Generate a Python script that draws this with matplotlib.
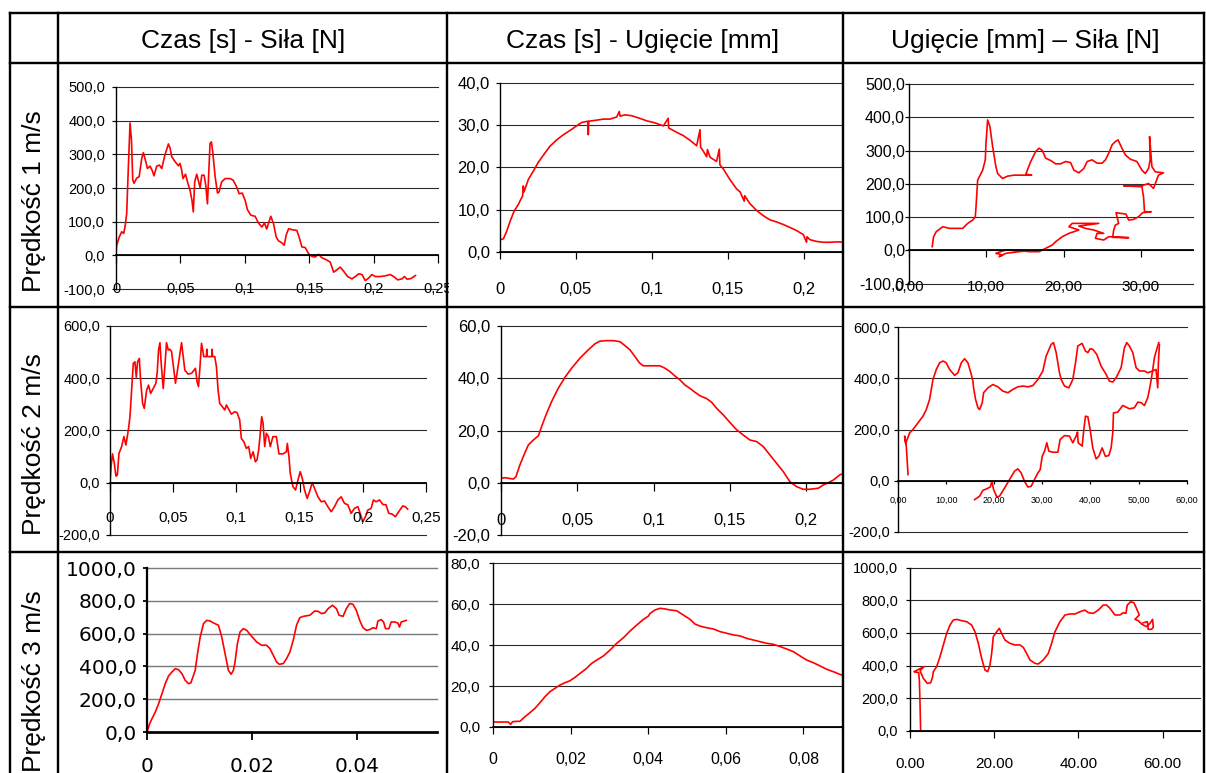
import numpy as np
import matplotlib
matplotlib.use("Agg")
import matplotlib.pyplot as plt
from matplotlib.lines import Line2D
from matplotlib.patches import Rectangle

# ---------------- data ----------------
col_titles = ["Czas [s] - Siła [N]", "Czas [s] - Ugięcie [mm]", "Ugięcie [mm] – Siła [N]"]
row_titles = ["Prędkość 1 m/s", "Prędkość 2 m/s", "Prędkość 3 m/s"]

# 1 m/s : time [s] - force [N]
v1_czas_sila = [(0, 5), (0.0005, 30), (0.0026, 55), (0.0044, 70), (0.006, 65), (0.007, 85), (0.0083, 124),
    (0.0096, 263), (0.0109, 393), (0.012, 343), (0.013, 224), (0.014, 214), (0.016, 229), (0.018, 234),
    (0.020, 288), (0.0212, 305), (0.0225, 288), (0.0244, 258), (0.0264, 265), (0.028, 253), (0.0295, 236),
    (0.0316, 265), (0.0337, 268), (0.0355, 258), (0.038, 298), (0.0407, 331), (0.042, 318), (0.0433, 293),
    (0.0459, 278), (0.0485, 266), (0.0497, 273), (0.051, 253), (0.052, 228), (0.054, 241), (0.0555, 218),
    (0.0575, 193), (0.059, 163), (0.060, 129), (0.0611, 218), (0.0627, 241), (0.0642, 218), (0.0653, 201),
    (0.0666, 238), (0.0684, 238), (0.0697, 208), (0.071, 153), (0.072, 243), (0.073, 332), (0.0741, 337),
    (0.0751, 307), (0.077, 233), (0.0788, 185), (0.080, 188), (0.082, 218), (0.0847, 228), (0.0886, 228),
    (0.091, 223), (0.0937, 203), (0.0956, 183), (0.098, 185), (0.1003, 163), (0.102, 136), (0.1047, 119),
    (0.108, 116), (0.1106, 96), (0.1132, 84), (0.1153, 96), (0.117, 78), (0.1187, 99), (0.1202, 116),
    (0.1223, 94), (0.1244, 54), (0.1262, 43), (0.1288, 37), (0.1306, 30), (0.1321, 60), (0.134, 79),
    (0.1368, 76), (0.1404, 74), (0.1425, 50), (0.1443, 25), (0.1469, 23), (0.1495, 5), (0.152, -3),
    (0.1546, -5), (0.1572, 3), (0.1598, -7), (0.1632, -13), (0.1663, -20), (0.169, -50), (0.1715, -43),
    (0.1741, -35), (0.1767, -47), (0.1798, -63), (0.1832, -70), (0.1858, -63), (0.1884, -55), (0.191, -57),
    (0.1935, -75), (0.196, -68), (0.1987, -57), (0.2013, -63), (0.2052, -63), (0.209, -61), (0.213, -57),
    (0.2156, -63), (0.2187, -73), (0.222, -70), (0.224, -63), (0.226, -71), (0.229, -69), (0.2325, -60)]

# 1 m/s : time [s] - deflection [mm]
v1_czas_ugiecie = [(0, 2.9), (0.0022, 3.1), (0.0044, 4.9), (0.0066, 7.2), (0.0092, 9.6), (0.012, 11.2),
    (0.0149, 13.3), (0.0153, 15.6), (0.0158, 14.2), (0.0186, 17.1), (0.0219, 19.1), (0.0252, 21.2),
    (0.029, 23.1), (0.0329, 25.0), (0.0373, 26.5), (0.0417, 27.7), (0.046, 28.7), (0.0504, 29.8),
    (0.0537, 30.6), (0.0578, 30.9), (0.0581, 27.7), (0.0584, 30.9), (0.0625, 31.1), (0.068, 31.4),
    (0.0724, 31.4), (0.0768, 31.9), (0.0785, 33.2), (0.079, 32.1), (0.0822, 32.4), (0.0866, 32.2),
    (0.091, 31.7), (0.0965, 31.0), (0.102, 30.5), (0.1075, 29.8), (0.1107, 31.6), (0.111, 29.3),
    (0.1162, 28.3), (0.1206, 27.5), (0.125, 26.4), (0.1294, 25.1), (0.1316, 28.9), (0.132, 24.8),
    (0.1338, 23.8), (0.136, 22.5), (0.1365, 24.2), (0.1382, 22.4), (0.1425, 21.4), (0.1443, 24.3),
    (0.1447, 20.6), (0.147, 19.6), (0.1513, 17.1), (0.1557, 14.9), (0.158, 14.2), (0.1607, 12.0),
    (0.161, 13.3), (0.1645, 11.4), (0.1689, 9.8), (0.1732, 8.6), (0.1776, 7.6), (0.182, 7.1),
    (0.1864, 6.5), (0.1908, 5.8), (0.195, 5.1), (0.1996, 4.1), (0.2017, 2.3), (0.202, 3.6), (0.204, 2.9),
    (0.2083, 2.5), (0.2127, 2.3), (0.217, 2.3), (0.222, 2.4), (0.2257, 2.3)]

# 1 m/s : deflection [mm] - force [N]
v1_ugiecie_sila = [(3.0, 11), (3.18, 41), (3.52, 56), (4.38, 71), (5.24, 66), (6.09, 66), (6.95, 66),
    (7.6, 81), (8.24, 91), (8.58, 101), (8.67, 131), (8.88, 211), (9.53, 241), (9.87, 272), (9.96, 322),
    (10.17, 392), (10.47, 372), (10.82, 312), (11.24, 252), (11.46, 231), (12.1, 216), (12.75, 223),
    (13.6, 226), (15.88, 226), (15.11, 229), (15.75, 267), (16.39, 297), (16.82, 307), (17.25, 300),
    (17.68, 277), (18.33, 270), (18.97, 260), (19.61, 260), (20.26, 267), (20.9, 264), (21.33, 241),
    (21.97, 233), (22.62, 246), (23.05, 267), (23.69, 272), (24.33, 262), (24.98, 262), (25.41, 272),
    (25.84, 292), (26.27, 317), (26.7, 327), (27.04, 332), (27.55, 307), (27.98, 287), (28.63, 274),
    (29.48, 267), (30.13, 241), (30.56, 231), (30.99, 246), (31.2, 272), (31.12, 342), (31.29, 292),
    (31.42, 252), (31.85, 236), (32.92, 233), (32.27, 226), (31.63, 186), (30.99, 201), (30.13, 194),
    (27.77, 194), (30.13, 191), (30.34, 161), (30.47, 116), (31.33, 116), (30.21, 113), (29.7, 101),
    (29.06, 93), (28.41, 91), (28.07, 109), (26.78, 113), (27.12, 81), (26.7, 76), (26.48, 61),
    (26.35, 39), (28.41, 38), (25.84, 41), (25.19, 31), (24.12, 36), (24.33, 51), (25.19, 51),
    (23.91, 61), (22.83, 66), (21.97, 73), (24.55, 81), (21.12, 81), (20.69, 71), (21.97, 61),
    (20.69, 51), (19.83, 41), (18.97, 26), (18.54, 16), (17.68, 6), (16.82, -4), (15.54, -4),
    (14.46, -1), (12.53, 1), (11.24, -9), (12.1, -14), (11.67, -19), (12.53, -9), (14.25, -4), (15.54, -1)]

# 2 m/s : time [s] - force [N]
v2_czas_sila = [(0, 0), (0.0008, 61), (0.002, 110), (0.0034, 74), (0.0047, 25), (0.0058, 29), (0.0071, 112),
    (0.0092, 138), (0.011, 176), (0.0126, 144), (0.0145, 201), (0.0158, 252), (0.0171, 354), (0.0184, 456),
    (0.0197, 462), (0.0208, 403), (0.0218, 462), (0.0232, 475), (0.0242, 392), (0.0258, 303), (0.0271, 284),
    (0.029, 354), (0.0305, 373), (0.0321, 341), (0.0342, 360), (0.0363, 380), (0.0374, 424), (0.0384, 507),
    (0.0395, 535), (0.0405, 456), (0.0421, 360), (0.0434, 443), (0.0447, 535), (0.0461, 507), (0.0474, 510),
    (0.0487, 501), (0.05, 450), (0.0518, 380), (0.0534, 430), (0.0553, 494), (0.0566, 535), (0.0579, 482),
    (0.0592, 430), (0.0618, 415), (0.0645, 418), (0.0676, 437), (0.0689, 386), (0.07, 367), (0.0711, 437),
    (0.0724, 533), (0.0742, 482), (0.0763, 482), (0.0766, 510), (0.0769, 482), (0.0789, 482), (0.0805, 482),
    (0.0808, 510), (0.0811, 482), (0.0829, 482), (0.0842, 443), (0.0855, 354), (0.0868, 303), (0.0889, 290),
    (0.0908, 278), (0.0921, 297), (0.0942, 278), (0.096, 262), (0.0987, 271), (0.1005, 268), (0.1026, 240),
    (0.1039, 169), (0.1058, 157), (0.1079, 131), (0.1097, 138), (0.1113, 93), (0.1132, 118), (0.115, 80),
    (0.1163, 87), (0.1176, 125), (0.1184, 163), (0.12, 252), (0.1211, 227), (0.1224, 138), (0.1237, 189),
    (0.1253, 176), (0.1268, 138), (0.1289, 176), (0.1316, 176), (0.1337, 110), (0.1368, 110), (0.1395, 118),
    (0.1403, 150), (0.1416, 99), (0.1426, 36), (0.1447, -15), (0.1468, -28), (0.1487, 10), (0.1505, 42),
    (0.1521, 17), (0.1539, -28), (0.156, -60), (0.1579, -34), (0.16, 0), (0.1618, -22), (0.1645, -54),
    (0.1671, -73), (0.1697, -70), (0.1724, -92), (0.175, -111), (0.1776, -92), (0.1803, -66), (0.1829, -54),
    (0.1855, -79), (0.1882, -85), (0.1908, -117), (0.1934, -98), (0.1961, -92), (0.1979, -117), (0.2, -149),
    (0.2021, -130), (0.2039, -105), (0.2066, -98), (0.2084, -66), (0.2105, -73), (0.2132, -66), (0.2158, -83),
    (0.2184, -85), (0.2205, -117), (0.2232, -120), (0.2258, -130), (0.2284, -111), (0.2316, -89),
    (0.2337, -92), (0.2355, -101)]

# 2 m/s : time [s] - deflection [mm]
v2_czas_ugiecie = [(0, 1.8), (0.0026, 2.0), (0.0048, 1.8), (0.0081, 1.5), (0.0098, 2.4), (0.0124, 6.9),
    (0.0157, 11.6), (0.0179, 14.5), (0.0212, 16.4), (0.0245, 18.0), (0.0266, 21.5), (0.0295, 26.0),
    (0.0332, 31.1), (0.0376, 36.2), (0.0419, 40.3), (0.0463, 43.8), (0.0517, 47.6), (0.0572, 50.8),
    (0.0616, 53.1), (0.0648, 54.1), (0.0692, 54.3), (0.0736, 54.3), (0.078, 53.9), (0.0812, 52.4),
    (0.0845, 50.8), (0.0878, 48.2), (0.0906, 45.9), (0.0932, 44.7), (0.0976, 44.7), (0.1041, 44.7),
    (0.1074, 43.8), (0.1107, 42.5), (0.114, 40.8), (0.1173, 39.3), (0.1205, 37.4), (0.1238, 36.1),
    (0.1271, 34.6), (0.1303, 33.3), (0.1347, 32.2), (0.138, 30.8), (0.1413, 28.5), (0.1456, 26.0),
    (0.15, 23.1), (0.1544, 20.3), (0.1587, 18.3), (0.1631, 16.4), (0.1675, 15.8), (0.1718, 13.9),
    (0.1762, 10.7), (0.1806, 7.5), (0.185, 4.3), (0.1893, 0.5), (0.1937, -1.4), (0.198, -2.4),
    (0.2024, -2.4), (0.2079, -2.0), (0.2111, -0.8), (0.2144, 0.1), (0.2177, 1.1), (0.222, 3.1), (0.2241, 3.5)]

# 2 m/s : deflection [mm] - force [N] (two branches)
v2_ugiecie_sila_a = [(2.08, 23.5), (1.73, 134), (1.38, 174), (1.59, 145), (2.42, 187), (3.11, 200),
    (4.15, 226), (5.19, 252), (5.88, 278), (6.57, 318), (7.27, 396), (7.96, 435), (8.65, 461), (9.34, 468),
    (10.03, 461), (10.73, 435), (11.76, 412), (12.46, 422), (13.15, 461), (13.84, 477), (14.53, 461),
    (15.22, 416), (15.57, 389), (15.71, 363), (16.12, 318), (16.61, 285), (16.96, 278), (17.51, 305),
    (17.79, 344), (18.69, 363), (19.72, 376), (20.76, 367), (21.8, 350), (22.84, 344), (23.88, 357),
    (24.91, 367), (25.95, 370), (26.99, 367), (28.03, 372), (29.07, 396), (30.1, 429), (30.8, 488),
    (31.83, 533), (32.32, 540), (32.87, 501), (33.56, 422), (33.91, 396), (34.6, 370), (35.5, 363),
    (36.33, 396), (36.89, 461), (37.37, 527), (38.27, 537), (38.96, 507), (39.45, 501), (39.93, 516),
    (40.48, 514), (41.31, 494), (42.21, 448), (43.25, 416), (43.94, 389), (44.64, 386), (45.33, 403),
    (46.37, 442), (47.06, 520), (47.54, 540), (48.1, 527), (48.79, 501), (49.48, 442), (50.17, 429),
    (51.21, 429), (51.9, 422), (52.94, 429), (53.63, 435), (53.98, 363), (54.12, 461), (54.33, 533)]
v2_ugiecie_sila_b = [(15.92, -74.5), (16.96, -61), (17.65, -38), (18.34, -33), (19.17, -25), (19.52, -3),
    (19.86, -35), (20.55, -64), (21.1, -61), (22.15, -29), (23.18, 4), (24.22, 37), (24.91, 46), (25.6, 30),
    (26.3, -3), (26.99, -25), (27.68, -22), (28.37, 4), (29.07, 30), (29.55, 43), (29.97, 95), (30.45, 115),
    (30.93, 148), (31.35, 115), (32.18, 111), (33.22, 111), (33.7, 161), (34.6, 176), (35.64, 174),
    (36.33, 148), (37.02, 174), (37.3, 190), (37.44, 148), (38.27, 135), (38.62, 200), (38.96, 252),
    (39.45, 250), (39.93, 200), (40.48, 128), (41.18, 85), (41.73, 95), (42.42, 128), (43.11, 95),
    (43.81, 98), (44.29, 128), (44.64, 187), (44.78, 265), (45.67, 268), (46.71, 294), (48.1, 281),
    (49.13, 285), (49.83, 307), (50.52, 305), (51.21, 294), (51.9, 324), (52.39, 370), (52.8, 416),
    (53.29, 481), (53.77, 514), (54.19, 540)]

# 3 m/s : time [s] - force [N]
v3_czas_sila = [(0, 0), (0.00051, 51), (0.00095, 81), (0.00158, 122), (0.00222, 173), (0.00285, 234),
    (0.00348, 295), (0.00411, 342), (0.00475, 366), (0.00538, 386), (0.00601, 380), (0.00665, 356),
    (0.00728, 315), (0.00791, 295), (0.00835, 299), (0.00886, 346), (0.00918, 376), (0.00962, 478),
    (0.01013, 579), (0.01076, 661), (0.01139, 681), (0.01203, 677), (0.01266, 665), (0.01361, 651),
    (0.01424, 579), (0.01487, 478), (0.01551, 376), (0.01601, 352), (0.01646, 376), (0.01677, 427),
    (0.01722, 539), (0.01772, 610), (0.01835, 630), (0.01899, 620), (0.01994, 583), (0.02089, 549),
    (0.02184, 529), (0.02278, 529), (0.02342, 508), (0.02405, 468), (0.02468, 427), (0.02519, 413),
    (0.02595, 417), (0.02658, 447), (0.02722, 488), (0.02785, 559), (0.02848, 651), (0.02911, 697),
    (0.02975, 705), (0.03101, 712), (0.03196, 738), (0.03259, 736), (0.03323, 722), (0.03386, 726),
    (0.03449, 752), (0.03532, 773), (0.03608, 752), (0.03658, 712), (0.03734, 705), (0.03797, 752),
    (0.03861, 783), (0.03924, 779), (0.03987, 742), (0.04051, 681), (0.04114, 636), (0.04177, 620),
    (0.04241, 624), (0.04304, 636), (0.04367, 630), (0.04399, 677), (0.04462, 685), (0.04506, 671),
    (0.04544, 630), (0.04608, 630), (0.04652, 671), (0.04715, 671), (0.04778, 665), (0.0481, 640),
    (0.04842, 671), (0.04905, 677), (0.04937, 681)]

# 3 m/s : time [s] - deflection [mm]
v3_czas_ugiecie = [(0, 2.44), (0.00172, 2.44), (0.00387, 2.44), (0.00447, 1.3), (0.00499, 2.6),
    (0.00602, 2.77), (0.00688, 2.77), (0.00817, 5.05), (0.00946, 7.0), (0.01075, 9.12), (0.01204, 11.9),
    (0.01333, 14.8), (0.01462, 17.26), (0.01591, 18.9), (0.0172, 20.5), (0.0185, 21.66), (0.01978, 22.6),
    (0.02108, 24.3), (0.02237, 26.2), (0.02409, 28.7), (0.02538, 31.1), (0.02667, 32.7), (0.02839, 34.7),
    (0.03011, 37.6), (0.03183, 40.9), (0.03355, 43.6), (0.03527, 46.9), (0.03699, 49.8), (0.03871, 52.6),
    (0.04, 54.2), (0.04043, 55.5), (0.04172, 57.2), (0.04301, 58.0), (0.0443, 57.7), (0.04559, 57.2),
    (0.04731, 56.8), (0.04903, 54.7), (0.05075, 52.6), (0.05204, 50.3), (0.05333, 49.3), (0.05505, 48.5),
    (0.05677, 47.9), (0.05849, 46.6), (0.06022, 45.8), (0.06194, 45.0), (0.06366, 44.5), (0.06538, 43.3),
    (0.0671, 42.5), (0.06882, 41.7), (0.07054, 40.9), (0.07226, 40.4), (0.07398, 39.3), (0.0757, 38.1),
    (0.07742, 36.8), (0.07914, 34.7), (0.08086, 32.7), (0.08258, 31.4), (0.0843, 29.8), (0.08602, 28.2),
    (0.08774, 27.0), (0.08946, 25.7), (0.0902, 25.2)]

# 3 m/s : deflection [mm] - force [N]
v3_ugiecie_sila = [(2.53, 0), (2.38, 168), (2.22, 311), (2.06, 356), (0.95, 362), (1.43, 368), (3.33, 393),
    (2.38, 368), (3.17, 321), (4.12, 290), (4.91, 294), (5.38, 331), (5.54, 362), (6.33, 393), (7.13, 454),
    (7.92, 526), (8.71, 597), (9.5, 648), (10.29, 679), (11.08, 683), (12.27, 675), (13.46, 669),
    (14.65, 648), (15.44, 607), (16.23, 536), (17.02, 444), (17.81, 372), (18.45, 362), (19.0, 403),
    (19.4, 474), (19.79, 577), (20.59, 607), (21.22, 628), (21.77, 597), (22.57, 556), (23.75, 536),
    (24.94, 526), (26.13, 526), (26.92, 511), (27.71, 474), (28.5, 434), (29.69, 413), (30.48, 409),
    (31.67, 434), (32.86, 474), (33.65, 536), (34.44, 607), (35.63, 669), (36.82, 710), (38.0, 716),
    (39.19, 716), (40.38, 730), (41.57, 740), (42.36, 724), (43.55, 720), (44.74, 740), (45.92, 771),
    (46.71, 771), (47.5, 751), (48.69, 710), (49.88, 710), (50.67, 724), (51.3, 720), (51.62, 771),
    (52.41, 791), (53.2, 785), (53.8, 751), (54.47, 710), (53.44, 683), (54.23, 675), (55.03, 654),
    (56.2, 638), (57.0, 658), (57.64, 683), (57.8, 634), (57.4, 622), (56.6, 622), (56.4, 669), (55.4, 662)]

# tick values / labels
yt_sila1 = [-100, 0, 100, 200, 300, 400, 500]
yt_ug1 = [0, 10, 20, 30, 40]
yt_sila2 = [-200, 0, 200, 400, 600]
yt_ug2 = [-20, 0, 20, 40, 60]
yt_sila3 = [0, 200, 400, 600, 800, 1000]
yt_ug3 = [0, 20, 40, 60, 80]
xt_czas = [0, 0.05, 0.1, 0.15, 0.2, 0.25]
xl_czas = ["0", "0,05", "0,1", "0,15", "0,2", "0,25"]
xt_ug1 = [0, 10, 20, 30]
xl_ug1 = ["0,00", "10,00", "20,00", "30,00"]
xt_ug2 = [0, 10, 20, 30, 40, 50, 60]
xl_ug2 = ["0,00", "10,00", "20,00", "30,00", "40,00", "50,00", "60,00"]
xt_czas3 = [0, 0.02, 0.04]
xl_czas3 = ["0", "0.02", "0.04"]
xt_czas3b = [0, 0.02, 0.04, 0.06, 0.08]
xl_czas3b = ["0", "0,02", "0,04", "0,06", "0,08"]
xt_ug3 = [0, 20, 40, 60]
xl_ug3 = ["0.00", "20.00", "40.00", "60.00"]

# ---------------- layout ----------------
W, H, DPI = 1206, 773, 100
ARIAL = ["Liberation Sans", "DejaVu Sans"]
NARROW = ARIAL          # narrow labels: Arial at a smaller size (no narrow face installed)
DEJAVU = ["DejaVu Sans"]

fig = plt.figure(figsize=(W / DPI, H / DPI), dpi=DPI)
fig.patch.set_facecolor("white")


def fx(px):
    return px / W


def fy(py):
    return 1 - py / H


def fmt1(v):
    return f"{v:.1f}".replace(".", ",")


# column and row boundaries (pixels)
XS = [10, 58.3, 447, 843.3, 1204]
YS = [13.3, 63, 306.7, 551.7, 800]

panels = [
    dict(series=[v1_czas_sila], box=(116, 438, 87, 289), xlim=(0, 0.25), ylim=(-100, 500),
         yt=yt_sila1, xt=xt_czas, xl=xl_czas, yfont=NARROW, ysize=10.5, ygap=11,
         xfont=NARROW, xsize=10.5, xoff=35, xtl=8),
    dict(series=[v1_czas_ugiecie], box=(500, 843, 82.7, 252), xlim=(0, 0.2257), ylim=(0, 40),
         yt=yt_ug1, xt=xt_czas[:5], xl=xl_czas[:5], yfont=ARIAL, ysize=12, ygap=10,
         xfont=ARIAL, xsize=12, xoff=38, xtl=7),
    dict(series=[v1_ugiecie_sila], box=(909, 1193, 84, 283.6), xlim=(0, 36.74), ylim=(-100, 500),
         yt=yt_sila1, xt=xt_ug1, xl=xl_ug1, yfont=ARIAL, ysize=11.5, ygap=4,
         xfont=NARROW, xsize=11, xoff=38, xtl=7),
    dict(series=[v2_czas_sila], box=(110, 426, 325.7, 535), xlim=(0, 0.25), ylim=(-200, 600),
         yt=yt_sila2, xt=xt_czas, xl=xl_czas, yfont=NARROW, ysize=10.5, ygap=10,
         xfont=NARROW, xsize=11, xoff=36.5, xtl=9),
    dict(series=[v2_czas_ugiecie], box=(501, 843, 325.7, 535.4), xlim=(0, 0.2241), ylim=(-20, 60),
         yt=yt_ug2, xt=xt_czas[:5], xl=xl_czas[:5], yfont=ARIAL, ysize=12, ygap=11,
         xfont=ARIAL, xsize=12, xoff=38.5, xtl=8),
    dict(series=[v2_ugiecie_sila_a, v2_ugiecie_sila_b], box=(898, 1186.7, 327.3, 531.7), xlim=(0, 60),
         ylim=(-200, 600), yt=yt_sila2, xt=xt_ug2, xl=xl_ug2, yfont=NARROW, ysize=10.5, ygap=8,
         xfont=NARROW, xsize=6.5, xoff=20.7, xtl=3),
    dict(series=[v3_czas_sila], box=(147, 437, 568, 732), xlim=(0, 0.05524), ylim=(0, 1000),
         yt=yt_sila3, xt=xt_czas3, xl=xl_czas3, yfont=DEJAVU, ysize=14.5, ygap=10,
         xfont=DEJAVU, xsize=14.5, xoff=35, xtl=8, heavy=True),
    dict(series=[v3_czas_ugiecie], box=(493.3, 843, 563.3, 727), xlim=(0, 0.0902), ylim=(0, 80),
         yt=yt_ug3, xt=xt_czas3b, xl=xl_czas3b, yfont=ARIAL, ysize=11, ygap=13,
         xfont=ARIAL, xsize=11.5, xoff=33, xtl=7),
    dict(series=[v3_ugiecie_sila], box=(910, 1200, 567.7, 730.7), xlim=(0, 68.9), ylim=(0, 1000),
         yt=yt_sila3, xt=xt_ug3, xl=xl_ug3, yfont=NARROW, ysize=10.5, ygap=12,
         xfont=NARROW, xsize=11, xoff=34, xtl=7),
]

PT = 72.0 / DPI  # points per pixel

for p in panels:
    x0, x1, y0, y1 = p["box"]
    heavy = p.get("heavy", False)
    ax = fig.add_axes([fx(x0), fy(y1), (x1 - x0) / W, (y1 - y0) / H])
    ax.set_facecolor("none")
    for s in p["series"]:
        arr = np.array(s, dtype=float)
        ax.plot(arr[:, 0], arr[:, 1], color="#ff0000", lw=1.2, zorder=3, solid_joinstyle="round")
    ax.set_xlim(*p["xlim"])
    ax.set_ylim(*p["ylim"])
    for s in ("top", "right"):
        ax.spines[s].set_visible(False)
    ax.spines["bottom"].set_position(("data", 0))
    ax.spines["bottom"].set_linewidth(1.8 * PT * (1.5 if heavy else 1.0))
    ax.spines["left"].set_linewidth(1.4 * PT * (1.6 if heavy else 1.0))
    ax.spines["bottom"].set_zorder(4)
    ax.spines["left"].set_zorder(4)

    # y axis ticks and labels
    ax.set_yticks(p["yt"])
    ax.set_yticklabels([fmt1(v) for v in p["yt"]])
    ytl = 4
    ax.tick_params(axis="y", direction="out", length=ytl * PT, width=(1.8 if heavy else 1.2) * PT,
                   pad=(p["ygap"] - ytl) * PT, colors="black", labelsize=p["ysize"])
    for lab in ax.get_yticklabels():
        lab.set_fontfamily(p["yfont"])
    ax.yaxis.grid(True, color="#7a7a7a" if heavy else "#2a2a2a", lw=1.1 * PT * (1.3 if heavy else 1.0))
    for gl in ax.get_ygridlines():
        gl.set_clip_on(False)
    ax.set_axisbelow(True)

    # x axis ticks (marks on the zero line) and labels below
    ax.set_xticks(p["xt"])
    ax.tick_params(axis="x", direction="out", length=p["xtl"] * PT, width=(1.8 if heavy else 1.2) * PT,
                   labelbottom=False, colors="black")
    for xv, lab in zip(p["xt"], p["xl"]):
        ax.annotate(lab, xy=(xv, 0), xycoords="data", xytext=(0, -p["xoff"] + 1),
                    textcoords="offset pixels", ha="center", va="center",
                    fontsize=p["xsize"], family=p["xfont"], annotation_clip=False, zorder=5)

# header and row titles
header_cx = [243, 643, 1025]
for cx, t in zip(header_cx, col_titles):
    fig.text(fx(cx), fy(48.3), t, ha="center", va="baseline", fontsize=19, family=ARIAL)

row_bottoms = [291.7, 535, 772]
for yb, t in zip(row_bottoms, row_titles):
    fig.text(fx(34.3), fy(yb), t, rotation=90, ha="center", va="bottom", fontsize=19, family=ARIAL)

# cell clipping: hide the part of the "0,25" label that spills past the first column line
fig.add_artist(Rectangle((fx(448.5), fy(300)), (470 - 448.5) / W, 20 / H, transform=fig.transFigure,
                         facecolor="white", edgecolor="none", zorder=9))

# table grid lines
LW = 2.0 * PT * 1.2
for yy in YS[:4]:
    fig.add_artist(Line2D([fx(XS[0]), fx(XS[-1])], [fy(yy), fy(yy)], transform=fig.transFigure,
                          color="black", lw=LW, zorder=10))
for xx in XS:
    fig.add_artist(Line2D([fx(xx), fx(xx)], [fy(YS[0]), fy(YS[-1])], transform=fig.transFigure,
                          color="black", lw=LW, zorder=10))

fig.savefig("out.png", dpi=DPI, facecolor="white")
